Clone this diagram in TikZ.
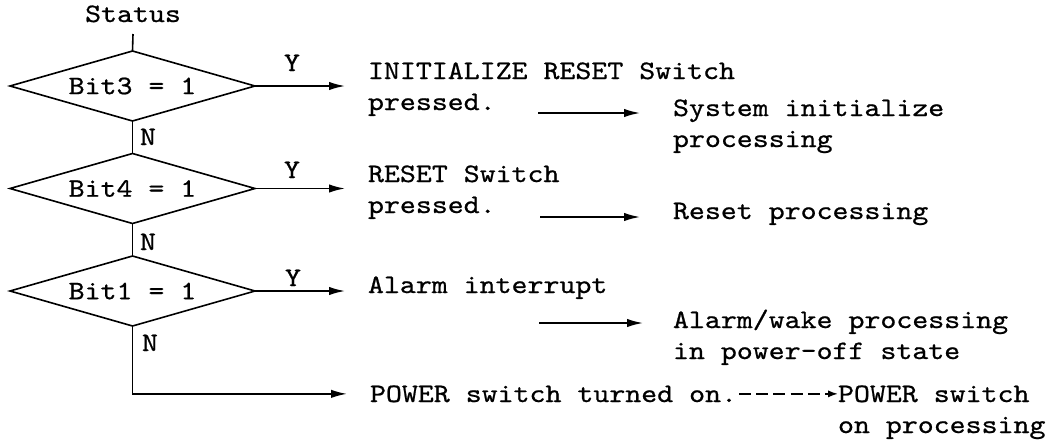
\documentclass[tikz,border=0pt]{standalone}
\usepackage{fontspec}
\newfontfamily\diagfont{lmmono10-regular.otf}[FakeStretch=1.14,FakeBold=0.7]
\usetikzlibrary{shapes.geometric,arrows.meta}
\begin{document}
\begin{tikzpicture}[x=0.5pt,y=-0.5pt,
  every node/.style={font=\diagfont\fontsize{13.33pt}{15.5pt}\selectfont, inner sep=0pt, outer sep=0pt},
  txt/.style={anchor=base west, align=left},
  lbl/.style={anchor=base},
  dec/.style={draw, diamond, shape aspect=3.5, minimum width=122.5pt, minimum height=35pt, line width=0.8pt},
  flow/.style={line width=0.8pt},
  arr/.style={line width=0.8pt, -{Latex[length=8pt,width=4.2pt]}},
  darr/.style={line width=0.8pt, dash pattern=on 6pt off 2.6pt, -{Latex[length=5pt,width=3.6pt]}}
]
\useasboundingbox (0,0) rectangle (1052,440);
% left column
\node[lbl] (status) at (133,22) {Status};
\coordinate (stem) at (133,34);
\node[dec] (d1) at (132.5,86) {Bit3 = 1};
\node[dec] (d2) at (132.5,188.5) {Bit4 = 1};
\node[dec] (d3) at (132.5,291) {Bit1 = 1};
\node[lbl] (y1) at (292,71) {Y};
\node[lbl] (y2) at (292,178) {Y};
\node[lbl] (y3) at (293,286) {Y};
\node[anchor=base west] (n1) at (140,145) {N};
\node[anchor=base west] (n2) at (140,250) {N};
\node[anchor=base west] (n3) at (142,351) {N};
% conditions (base = last line)
\node[txt] (it1) at (368,110) {INITIALIZE RESET Switch\\pressed.};
\node[txt] (it2) at (368,213) {RESET Switch\\pressed.};
\node[txt] (it3) at (368,293) {Alarm interrupt};
\node[txt] (pw) at (370,402) {POWER switch turned on.};
% processing
\node[txt] (sys) at (673,147) {System initialize\\processing};
\node[txt] (rp) at (673,219) {Reset processing};
\node[txt] (aw) at (673,359) {Alarm/wake processing\\in power-off state};
\node[txt] (pp) at (838,433) {POWER switch\\on processing};
% middle arrow starts
\coordinate (m1) at (538,113);
\coordinate (m2) at (540,217);
\coordinate (m3) at (539,323);
% connectors
\draw[flow] (stem) -- (d1.north);
\draw[flow] (d1.south) -- (d2.north);
\draw[flow] (d2.south) -- (d3.north);
\draw[arr] (d1.east) -- ([xshift=-11.5pt]it1.west |- d1.east);
\draw[arr] (d2.east) -- ([xshift=-11.5pt]it2.west |- d2.east);
\draw[arr] (d3.east) -- ([xshift=-11.5pt]it3.west |- d3.east);
\draw[arr] (d3.south) -- (d3.south |- pw.west) -- ([xshift=-11.5pt]pw.west);
\draw[arr] (m1) -- ([xshift=-16.5pt]sys.west |- m1);
\draw[arr] (m2) -- ([xshift=-16.5pt]rp.west |- m2);
\draw[arr] (m3) -- ([xshift=-15pt]aw.west |- m3);
\draw[darr] ([xshift=1pt]pw.east) -- (pw.east -| pp.west);
\end{tikzpicture}
\end{document}
